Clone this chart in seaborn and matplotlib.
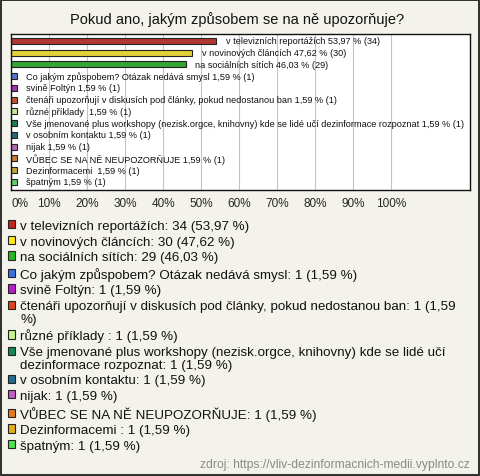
import textwrap
import matplotlib
matplotlib.use("Agg")
import matplotlib.pyplot as plt
from matplotlib.patches import Patch
from matplotlib.legend_handler import HandlerPatch
import seaborn as sns
import pandas as pd

categories = [
    "v televizních reportážích",
    "v novinových článcích",
    "na sociálních sítích",
    "Co jakým způspobem? Otázak nedává smysl",
    "svině Foltýn",
    "čtenáři upozorňují v diskusích pod články, pokud nedostanou ban",
    "různé příklady ",
    "Vše jmenované plus workshopy (nezisk.orgce, knihovny) kde se lidé učí dezinformace rozpoznat",
    "v osobním kontaktu",
    "nijak",
    "VŮBEC SE NA NĚ NEUPOZORŇUJE",
    "Dezinformacemi ",
    "špatným",
]
counts = [34, 30, 29, 1, 1, 1, 1, 1, 1, 1, 1, 1, 1]
percents = [53.97, 47.62, 46.03, 1.59, 1.59, 1.59, 1.59, 1.59, 1.59, 1.59, 1.59, 1.59, 1.59]
colors = ["#c8231a", "#ffe81c", "#22b822", "#3b6fe0", "#b71ccc", "#e0431a",
          "#c3f58a", "#148a55", "#1f6e8c", "#c35bc9", "#e57a1d", "#e3ad1a", "#4de34d"]
xticks = list(range(0, 101, 10))
title = "Pokud ano, jakým způsobem se na ně upozorňuje?"
source = "zdroj: https://vliv-dezinformacnich-medii.vyplnto.cz"

sns.set_theme(style="white")
plt.rcParams["font.family"] = ["Liberation Sans", "DejaVu Sans"]

BG = "#f4f3eb"
fig = plt.figure(figsize=(4.8, 4.77), dpi=100, facecolor=BG, edgecolor="#333333", linewidth=1.5)
ax = fig.add_axes([11 / 480, 1 - 191 / 477, (470 - 11) / 480, (191 - 35) / 477])
ax.set_facecolor("white")

df = pd.DataFrame({"cat": categories, "pct": percents})
sns.barplot(data=df, y="cat", x="pct", hue="cat", palette=colors, orient="h",
            width=0.5, edgecolor="#222222", linewidth=0.8, legend=False, ax=ax)

def fmt(p):
    return f"{p:.2f}".replace(".", ",")

for i, (c, p, n) in enumerate(zip(categories, percents, counts)):
    ax.annotate(f"{c} {fmt(p)} % ({n})", xy=(p, i), xytext=(6.8, 0),
                textcoords="offset points", va="center", ha="left",
                fontsize=6.6, color="#111111")

ax.set_xlim(0, 120.7)
ax.set_ylim(len(categories) - 1 + 0.69, -0.59)
ax.set_xticks(xticks)
ax.set_xticklabels([f"{t}%" for t in xticks], fontsize=8.5)
ax.get_xticklabels()[0].set_horizontalalignment("left")
ax.set_yticks([])
ax.set_xlabel("")
ax.set_ylabel("")
ax.tick_params(axis="x", length=0, pad=5)
ax.grid(axis="x", color="#c4c4c4", linewidth=0.8)
ax.set_axisbelow(True)
for s in ax.spines.values():
    s.set_color("#111111")
    s.set_linewidth(1)

fig.text(237 / 480, 1 - 20 / 477, title, ha="center", va="center", fontsize=10.5, color="#111111")

LEG_FS = 9.6
LINESP = 1.1


class FirstLineHandler(HandlerPatch):
    def __init__(self, shift, **kw):
        super().__init__(**kw)
        self.shift = shift

    def create_artists(self, legend, orig_handle, xdescent, ydescent, width, height, fontsize, trans):
        return super().create_artists(legend, orig_handle, xdescent, ydescent - self.shift,
                                      width, height, fontsize, trans)


handles = [Patch(facecolor=col, edgecolor="#222222", linewidth=0.8) for col in colors]
labels = [textwrap.fill(f"{c}: {n} ({fmt(p)} %)", 73) for c, p, n in zip(categories, percents, counts)]
hmap = {h: FirstLineHandler((lab.count("\n")) / 2 * LINESP * LEG_FS) for h, lab in zip(handles, labels)}
leg = fig.legend(handles, labels, loc="upper left", bbox_to_anchor=(7.5 / 480, 1 - 221 / 477),
                 frameon=False, fontsize=LEG_FS, handlelength=0.58, handleheight=0.58,
                 handletextpad=0.36, labelspacing=0.27, borderaxespad=0, borderpad=0,
                 handler_map=hmap)
for t in leg.get_texts():
    t.set_linespacing(LINESP)
    t.set_color("#111111")

fig.text(470 / 480, 1 - 465 / 477, source, ha="right", va="center", fontsize=8.7, color="#8a8a8a")

fig.savefig("out.png", dpi=100, facecolor=BG, edgecolor="#333333")
